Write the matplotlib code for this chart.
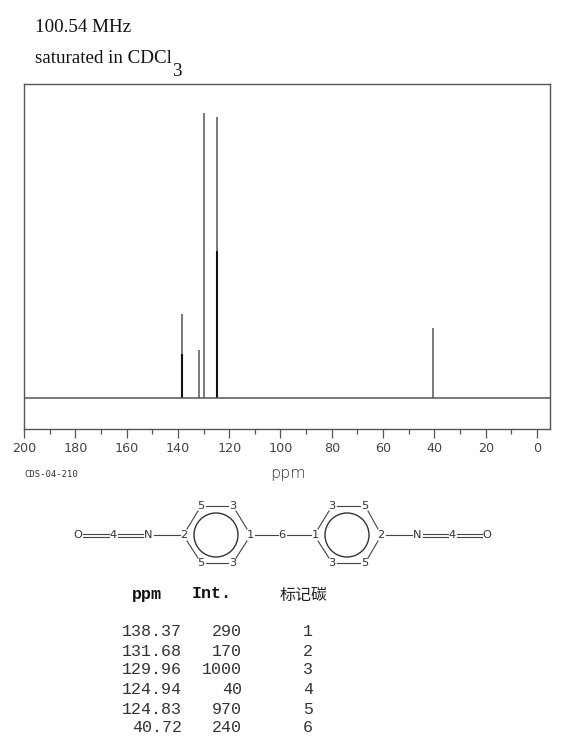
import matplotlib
matplotlib.use('Agg')
import matplotlib.pyplot as plt
from matplotlib.patches import Circle

# picos del espectro
ppm_peaks = [138.37, 131.68, 129.96, 124.94, 124.83, 40.72]
int_peaks = [295, 170, 1000, 515, 985, 245]
ppm_dark = [138.37, 124.94]
int_dark = [154, 515]

# tabla
tabla_ppm = ['138.37', '131.68', '129.96', '124.94', '124.83', '40.72']
tabla_int = ['290', '170', '1000', '40', '970', '240']
tabla_carbono = ['1', '2', '3', '4', '5', '6']

ticks_mayores = [200, 180, 160, 140, 120, 100, 80, 60, 40, 20, 0]
ticks_menores = [190, 170, 150, 130, 110, 90, 70, 50, 30, 10]

GRIS = '#555555'
W, H = 570, 753

fig = plt.figure(figsize=(W / 100, H / 100), dpi=100, facecolor='white')

# Capa en pixeles para textos y la molecula
capa = fig.add_axes([0, 0, 1, 1])
capa.set_xlim(0, W)
capa.set_ylim(H, 0)
capa.axis('off')

# Espectro
ax = fig.add_axes([24 / W, 1 - 429 / H, (550 - 24) / W, (429 - 84) / H])
ax.set_xlim(200, -5.07)
ax.set_ylim(-109, 1102)
ax.vlines(ppm_peaks, 0, int_peaks, color='#555555', lw=1.1)
ax.vlines(ppm_dark, 0, int_dark, color='#111111', lw=1.5)
ax.axhline(0, color=GRIS, lw=1.1)
ax.set_xticks(ticks_mayores)
ax.set_xticks(ticks_menores, minor=True)
ax.set_yticks([])
ax.tick_params(axis='x', which='major', length=6.5, width=0.9, color=GRIS,
               labelsize=9.2, labelcolor='#444444', pad=3)
ax.tick_params(axis='x', which='minor', length=3.5, width=0.9, color=GRIS)
for spine in ax.spines.values():
    spine.set_color(GRIS)
    spine.set_linewidth(1.0)

# Encabezado
serif = 'Liberation Serif'
capa.text(35, 27, '100.54 MHz', family=serif, fontsize=13.7, color='#111111', va='center')
capa.text(35, 58, 'saturated in CDCl', family=serif, fontsize=13.7, color='#111111', va='center')
capa.text(172.5, 71, '3', family=serif, fontsize=13.7, color='#111111', va='center')

capa.text(24, 474, 'CDS-04-210', family='DejaVu Sans Mono', fontsize=6.4, color='#333333', va='center')
capa.text(288, 473, 'ppm', fontsize=11.5, color='#333333', ha='center', va='center', fontweight='light')


# Molecula
def enlace(x0, y0, x1, y1, doble=False):
    if doble:
        capa.plot([x0, x1], [y0 - 1.5, y1 - 1.5], color='#444444', lw=0.8)
        capa.plot([x0, x1], [y0 + 1.5, y1 + 1.5], color='#444444', lw=0.8)
    else:
        capa.plot([x0, x1], [y0, y1], color='#444444', lw=0.8)


def atomo(x, y, s):
    capa.text(x, y, s, fontsize=8.2, color='#333333', ha='center', va='center')


# Cadena central y grupos N=C=O
enlace(83, 535, 109, 535, doble=True)
enlace(118, 535, 143, 535, doble=True)
enlace(154, 535, 180, 535)
enlace(255, 535, 278, 535)
enlace(287, 535, 311, 535)
enlace(386, 535, 412, 535)
enlace(423, 535, 448, 535, doble=True)
enlace(457, 535, 482, 535, doble=True)

# Anillo izquierdo
enlace(187, 529, 198, 511)
enlace(206, 506, 228, 506)
enlace(236, 511, 247, 529)
enlace(247, 541, 236, 558)
enlace(228, 563, 206, 563)
enlace(198, 558, 187, 541)
capa.add_patch(Circle((216, 535), 22, fill=False, ec='#333333', lw=1.0))

# Anillo derecho
enlace(318, 529, 329, 511)
enlace(337, 506, 360, 506)
enlace(368, 511, 378, 529)
enlace(378, 541, 368, 558)
enlace(360, 563, 337, 563)
enlace(329, 558, 318, 541)
capa.add_patch(Circle((347, 535), 22, fill=False, ec='#333333', lw=1.0))

atomos = [(78, 535, 'O'), (113, 535, '4'), (148, 535, 'N'), (184, 535, '2'),
          (201, 506, '5'), (233, 506, '3'), (201, 563, '5'), (233, 563, '3'),
          (250, 535, '1'), (282, 535, '6'), (315, 535, '1'), (332, 506, '3'),
          (365, 506, '5'), (332, 563, '3'), (365, 563, '5'), (381, 535, '2'),
          (417, 535, 'N'), (452, 535, '4'), (487, 535, 'O')]
for x, y, s in atomos:
    atomo(x, y, s)

# Tabla
mono = 'Liberation Mono'
capa.text(147, 594, 'ppm', family=mono, fontsize=12, fontweight='bold', color='#111111', ha='center', va='center')
capa.text(212, 594, 'Int.', family=mono, fontsize=12, fontweight='bold', color='#111111', ha='center', va='center')
capa.text(304, 595, '标记碳', family='Noto Sans CJK SC', fontsize=11.5, color='#222222', ha='center', va='center')

filas_y = [632, 651, 670, 690, 709, 728]
for y, p, i, c in zip(filas_y, tabla_ppm, tabla_int, tabla_carbono):
    capa.text(182, y, p, family=mono, fontsize=12, color='#333333', ha='right', va='center')
    capa.text(242, y, i, family=mono, fontsize=12, color='#333333', ha='right', va='center')
    capa.text(308, y, c, family=mono, fontsize=12, color='#333333', ha='center', va='center')

fig.savefig('out.png', dpi=100, facecolor='white')
